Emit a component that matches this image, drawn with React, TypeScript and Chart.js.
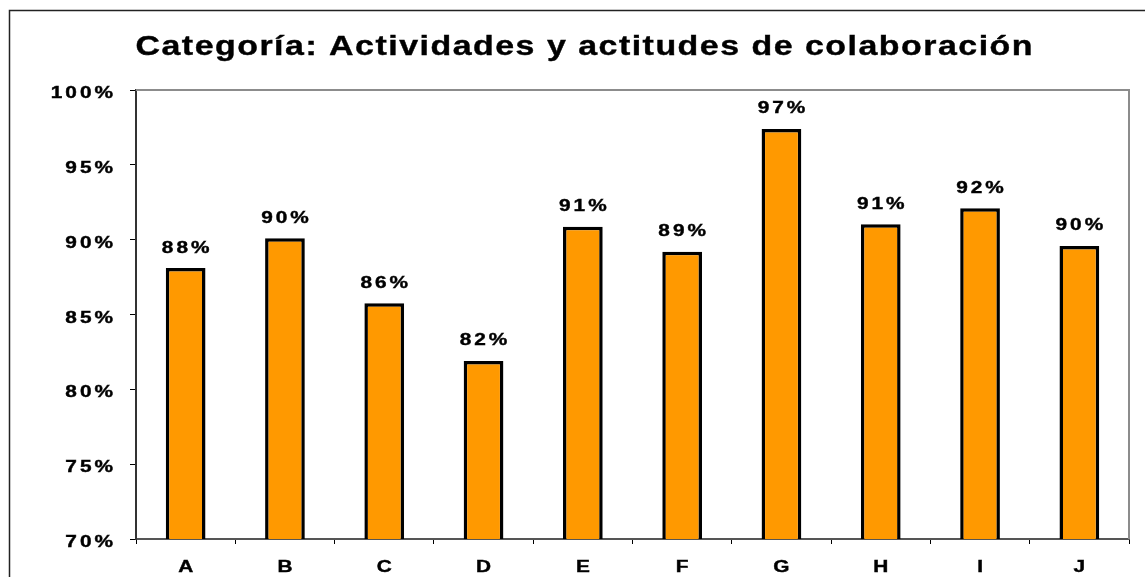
import React, { useEffect, useRef } from 'react';
import { Chart, registerables } from 'chart.js';

Chart.register(...registerables);

const categories = ['A', 'B', 'C', 'D', 'E', 'F', 'G', 'H', 'I', 'J'];
const values = [88.1, 90.1, 85.75, 81.9, 90.87, 89.2, 97.4, 91.03, 92.1, 89.58];
const yMin = 70;
const yMax = 100;
const yStep = 5;
const titleText = 'Categoría: Actividades y actitudes de colaboración';

const FONT = '"Liberation Sans", Arial, sans-serif';

function measureSpaced(ctx: CanvasRenderingContext2D, text: string, size: number, sx: number, spacing: number) {
  ctx.save();
  ctx.font = `bold ${size}px ${FONT}`;
  const chars = Array.from(text);
  const w = chars.reduce((a, c) => a + ctx.measureText(c).width * sx, 0) + spacing * (chars.length - 1);
  ctx.restore();
  return w;
}

function drawSpaced(
  ctx: CanvasRenderingContext2D,
  text: string,
  x: number,
  y: number,
  align: 'left' | 'center' | 'right',
  size: number,
  sx: number,
  spacing: number,
  color = '#000'
) {
  ctx.save();
  ctx.font = `bold ${size}px ${FONT}`;
  ctx.fillStyle = color;
  ctx.strokeStyle = color;
  ctx.lineWidth = 0.4;
  ctx.textAlign = 'left';
  ctx.textBaseline = 'alphabetic';
  const chars = Array.from(text);
  const widths = chars.map((c) => ctx.measureText(c).width * sx);
  const total = widths.reduce((a, b) => a + b, 0) + spacing * (chars.length - 1);
  let cx = align === 'center' ? x - total / 2 : align === 'right' ? x - total : x;
  chars.forEach((c, i) => {
    ctx.save();
    ctx.translate(cx, y);
    ctx.scale(sx, 1);
    ctx.fillText(c, 0, 0);
    ctx.strokeText(c, 0, 0);
    ctx.restore();
    cx += widths[i] + spacing;
  });
  ctx.restore();
}

const decorPlugin = {
  id: 'decor',
  afterDraw(chart: any) {
    const ctx: CanvasRenderingContext2D = chart.ctx;
    const area = chart.chartArea;

    // outer frame
    ctx.save();
    ctx.strokeStyle = '#222';
    ctx.lineWidth = 1.5;
    ctx.beginPath();
    ctx.moveTo(9.5, 577);
    ctx.lineTo(9.5, 10.5);
    ctx.lineTo(1145, 10.5);
    ctx.stroke();

    // plot area top/right border
    ctx.strokeStyle = '#8c8c8c';
    ctx.lineWidth = 2;
    ctx.beginPath();
    ctx.moveTo(area.left, area.top);
    ctx.lineTo(area.right, area.top);
    ctx.lineTo(area.right, area.bottom);
    ctx.stroke();
    ctx.restore();

    // title
    const tSize = 28;
    const tSpacing = 1.5;
    const base = measureSpaced(ctx, titleText, tSize, 1, 0);
    const n = Array.from(titleText).length;
    const tsx = (897 - tSpacing * (n - 1)) / base;
    drawSpaced(ctx, titleText, 584, 55, 'center', tSize, tsx, tSpacing);

    // y tick labels
    const ys = chart.scales.y;
    ys.ticks.forEach((t: any, i: number) => {
      const py = ys.getPixelForTick(i);
      drawSpaced(ctx, `${t.value}%`, 113, py + 8, 'right', 16, 1.3, 3);
    });

    // x tick labels
    const xs = chart.scales.x;
    xs.ticks.forEach((t: any, i: number) => {
      const px = xs.getPixelForTick(i);
      drawSpaced(ctx, String(xs.getLabelForValue(t.value)), px, 572, 'center', 16, 1.3, 3);
    });

    // data labels
    const meta = chart.getDatasetMeta(0);
    meta.data.forEach((el: any, i: number) => {
      const v = chart.data.datasets[0].data[i] as number;
      drawSpaced(ctx, `${Math.round(v)}%`, el.x, el.y - 15.5, 'center', 16, 1.3, 3);
    });
  },
};

export default function App() {
  const ref = useRef<HTMLCanvasElement | null>(null);

  useEffect(() => {
    if (!ref.current) return;
    const chart = new Chart(ref.current, {
      type: 'bar',
      data: {
        labels: categories,
        datasets: [
          {
            data: values,
            backgroundColor: '#FF9900',
            borderColor: '#000000',
            borderWidth: 3.5,
            barPercentage: 0.4,
            categoryPercentage: 1,
          },
        ],
      },
      options: {
        responsive: false,
        animation: false,
        devicePixelRatio: 1,
        layout: { padding: { top: 90, right: 16, left: 0, bottom: 0 } },
        plugins: {
          legend: { display: false },
          title: { display: false },
          tooltip: { enabled: false },
        },
        scales: {
          x: {
            ticks: { display: false },
            grid: {
              display: true,
              drawOnChartArea: false,
              drawTicks: true,
              tickLength: 5,
              color: '#000',
              lineWidth: 1,
              offset: true,
            },
            border: { display: true, color: '#555', width: 2 },
            afterFit: (scale: any) => {
              scale.height = 38;
            },
          },
          y: {
            min: yMin,
            max: yMax,
            ticks: { display: false, stepSize: yStep },
            grid: {
              display: true,
              drawOnChartArea: false,
              drawTicks: true,
              tickLength: 6,
              color: '#000',
              lineWidth: 1,
            },
            border: { display: true, color: '#333', width: 2 },
            afterFit: (scale: any) => {
              scale.width = 136;
            },
          },
        },
      },
      plugins: [decorPlugin],
    });
    return () => chart.destroy();
  }, []);

  return (
    <div style={{ position: 'absolute', left: 0, top: 0, width: 1145, height: 577, background: '#fff' }}>
      <canvas ref={ref} width={1145} height={577} style={{ display: 'block' }} />
    </div>
  );
}
